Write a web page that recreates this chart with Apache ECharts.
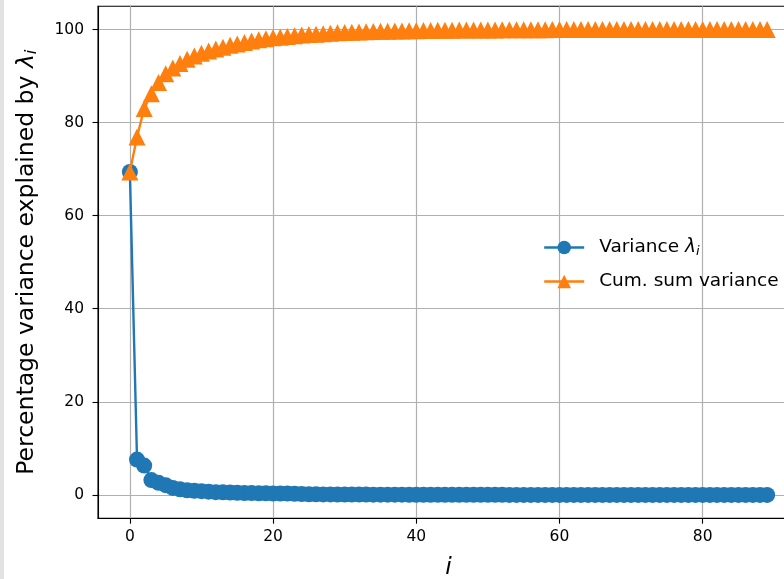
<!DOCTYPE html>
<html>
<head>
<meta charset="utf-8">
<script src="https://cdn.jsdelivr.net/npm/echarts@6/dist/echarts.min.js"></script>
<style>
html,body{margin:0;padding:0;background:#fff;}
#chart{width:784px;height:579px;}
</style>
</head>
<body>
<div id="chart"></div>
<script>
// index i = 0..89
const variance = [
  69.4, 7.6, 6.3, 3.2, 2.6, 2.1, 1.5, 1.2, 1.0, 0.9,
  0.8, 0.7, 0.6, 0.55, 0.5, 0.45, 0.4, 0.4, 0.35, 0.35,
  0.3, 0.3, 0.3, 0.25, 0.2, 0.15, 0.12, 0.1, 0.1, 0.09,
  0.08, 0.08, 0.07, 0.07, 0.06, 0.06, 0.05, 0.05, 0.05, 0.04,
  0.04, 0.04, 0.03, 0.03, 0.03, 0.03, 0.02, 0.02, 0.02, 0.02,
  0.02, 0.02, 0.02, 0.01, 0.01, 0.01, 0.01, 0.01, 0.01, 0.01,
  0.01, 0.01, 0.01, 0.01, 0.01, 0.01, 0.01, 0.01, 0.0, 0.0,
  0.0, 0.0, 0.0, 0.0, 0.0, 0.0, 0.0, 0.0, 0.0, 0.0,
  0.0, 0.0, 0.0, 0.0, 0.0, 0.0, 0.0, 0.0, 0.0, 0.0
];
const cumVariance = [
  69.4, 76.9, 83.0, 86.2, 88.6, 90.5, 91.7, 92.7, 93.6, 94.3,
  94.9, 95.4, 95.8, 96.2, 96.6, 96.9, 97.2, 97.5, 97.8, 98.0,
  98.2, 98.35, 98.5, 98.65, 98.8, 98.9, 99.0, 99.1, 99.2, 99.3,
  99.35, 99.4, 99.45, 99.5, 99.55, 99.6, 99.63, 99.66, 99.69, 99.72,
  99.75, 99.77, 99.79, 99.81, 99.83, 99.85, 99.86, 99.87, 99.88, 99.89,
  99.9, 99.91, 99.92, 99.93, 99.94, 99.95, 99.95, 99.96, 99.96, 99.97,
  99.97, 99.97, 99.98, 99.98, 99.98, 99.98, 99.99, 99.99, 99.99, 99.99,
  99.99, 100, 100, 100, 100, 100, 100, 100, 100, 100,
  100, 100, 100, 100, 100, 100, 100, 100, 100, 100
];
const xTicks = [0, 20, 40, 60, 80];
const yTicks = [0, 20, 40, 60, 80, 100];
const seriesNames = ['Variance λi', 'Cum. sum variance'];

const varData = variance.map((v, i) => [i, v]);
const cumData = cumVariance.map((v, i) => [i, v]);

const FONT = 'DejaVu Sans';
const chart = echarts.init(document.getElementById('chart'), null, {renderer: 'canvas'});
chart.setOption({
  animation: false,
  backgroundColor: '#ffffff',
  graphic: [{
    type: 'rect', left: 0, top: 0, shape: {width: 4, height: 579},
    style: {fill: '#e2e2e2'}, silent: true
  }],
  grid: {
    left: 98, top: 6.2, width: 701, height: 512,
    containLabel: false, outerBoundsMode: 'none',
    show: true, borderColor: '#000', borderWidth: 1.1, backgroundColor: 'transparent'
  },
  legend: {
    orient: 'vertical', left: 543, top: 238, padding: 0,
    itemWidth: 40, itemHeight: 17, itemGap: 14,
    lineStyle: {width: 2.4},
    data: seriesNames,
    formatter: function (name) {
      if (name === seriesNames[0]) return '{g|}{t|Variance }{l|λ}{s|i}';
      return '{g|}{t|Cum. sum variance}';
    },
    textStyle: {
      fontFamily: FONT, fontSize: 18.5, color: '#000',
      rich: {
        g: {width: 10},
        t: {fontFamily: FONT, fontSize: 18.5, color: '#000'},
        l: {fontFamily: FONT, fontSize: 18.5, fontStyle: 'italic', color: '#000'},
        s: {fontFamily: FONT, fontSize: 13, fontStyle: 'italic', color: '#000', padding: [8, 0, 0, 0]}
      }
    }
  },
  xAxis: {
    type: 'value', min: -4.45, max: 93.45,
    name: 'i', nameLocation: 'middle', nameGap: 38,
    nameTextStyle: {fontFamily: FONT, fontSize: 23.5, fontStyle: 'italic', color: '#000'},
    axisLine: {show: true, onZero: false, lineStyle: {color: '#000', width: 1.1}},
    axisTick: {show: true, customValues: xTicks, length: 5.5, lineStyle: {color: '#000', width: 1.1}},
    axisLabel: {customValues: xTicks, margin: 11, fontFamily: FONT, fontSize: 15.5, color: '#000'},
    splitLine: {show: true, lineStyle: {color: '#b0b0b0', width: 1.2}}
  },
  yAxis: {
    type: 'value', min: -5, max: 105,
    name: '{t|Percentage variance explained by }{l|λ}{s|i}',
    nameLocation: 'middle', nameGap: 58,
    nameTextStyle: {
      fontFamily: FONT, fontSize: 23.5, color: '#000',
      rich: {
        t: {fontFamily: FONT, fontSize: 23.5, color: '#000'},
        l: {fontFamily: FONT, fontSize: 23.5, fontStyle: 'italic', color: '#000'},
        s: {fontFamily: FONT, fontSize: 16.5, fontStyle: 'italic', color: '#000', padding: [10, 0, 0, 0]}
      }
    },
    axisLine: {show: true, onZero: false, lineStyle: {color: '#000', width: 1.1}},
    axisTick: {show: true, customValues: yTicks, length: 5.5, lineStyle: {color: '#000', width: 1.1}},
    axisLabel: {customValues: yTicks, margin: 14, fontFamily: FONT, fontSize: 15.5, color: '#000'},
    splitLine: {show: true, lineStyle: {color: '#b0b0b0', width: 1.2}}
  },
  series: [
    {
      name: seriesNames[0], type: 'line', data: varData,
      symbol: 'circle', symbolSize: 16, showAllSymbol: true,
      itemStyle: {color: '#1f77b4'},
      lineStyle: {color: '#1f77b4', width: 2.4},
      z: 2
    },
    {
      name: seriesNames[1], type: 'line', data: cumData,
      symbol: 'triangle', symbolSize: 17, showAllSymbol: true,
      itemStyle: {color: '#ff7f0e'},
      lineStyle: {color: '#ff7f0e', width: 2.4},
      z: 3
    }
  ]
});
</script>
</body>
</html>
